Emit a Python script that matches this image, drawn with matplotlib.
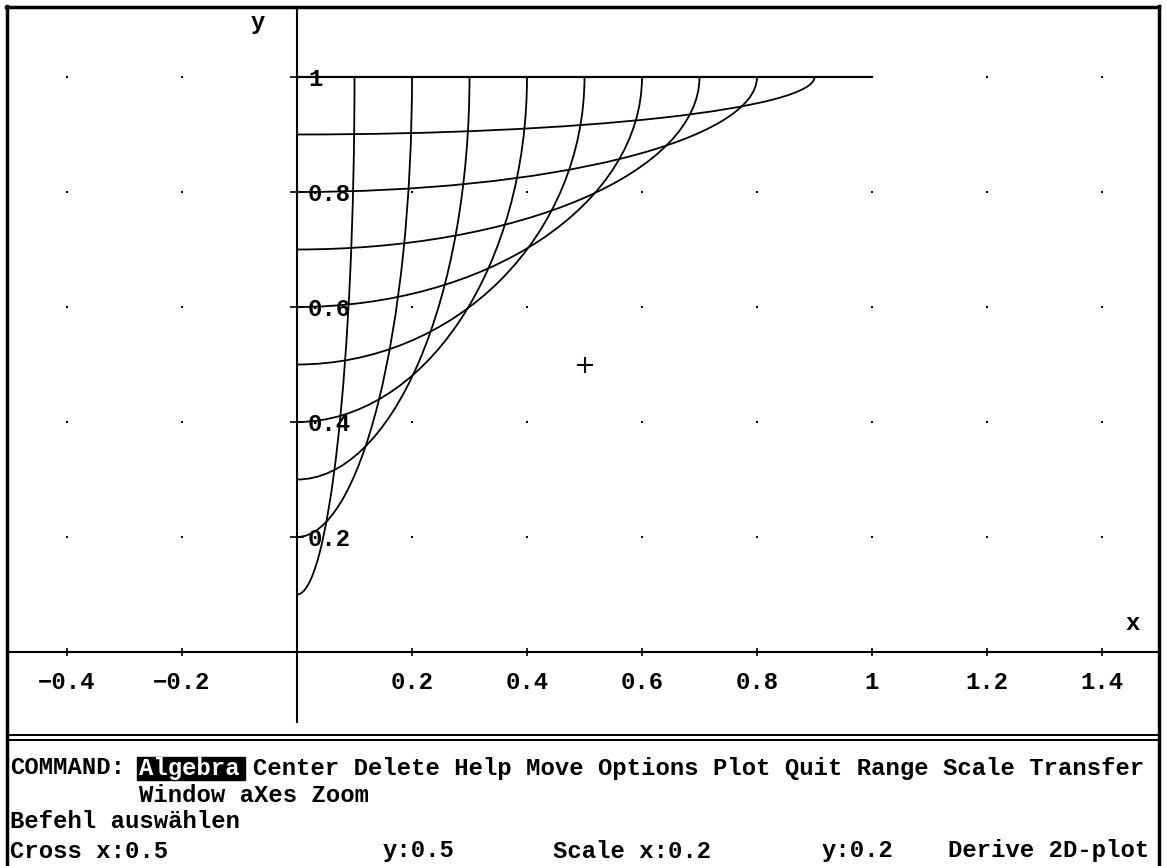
import matplotlib
matplotlib.use("Agg")
import matplotlib.pyplot as plt
from matplotlib.patches import Arc, Rectangle
import numpy as np

# quarter ellipses centred at (0, 1): x semi-axis a, y semi-axis 1 - a
ellipse_a = [0.1, 0.2, 0.3, 0.4, 0.5, 0.6, 0.7, 0.8, 0.9]
top_line_end = 1.0   # a = 1 collapses to the flat line y = 1

x_ticks = [-0.4, -0.2, 0.2, 0.4, 0.6, 0.8, 1.0, 1.2, 1.4]
x_tick_labels = ["\u22120.4", "\u22120.2", "0.2", "0.4", "0.6", "0.8", "1", "1.2", "1.4"]
y_ticks = [0.2, 0.4, 0.6, 0.8, 1.0]
y_tick_labels = ["0.2", "0.4", "0.6", "0.8", "1"]
cross_x = 0.5
cross_y = 0.5

menu_items = ["Center", "Delete", "Help", "Move", "Options", "Plot", "Quit",
              "Range", "Scale", "Transfer"]
menu_items2 = ["Window", "aXes", "Zoom"]

W, H = 1167, 866
# pixel layout of the graph window
x0_px, y0_px, unit_px = 297, 652, 575
left_px, right_px, top_px, bot_px = 9, 1158, 9, 733

mono = ["Liberation Mono", "DejaVu Sans Mono"]
fs = 17.2

fig = plt.figure(figsize=(W / 100, H / 100), dpi=100)

bg = fig.add_axes([0, 0, 1, 1])
bg.set_xlim(0, W)
bg.set_ylim(H, 0)
bg.axis("off")

ax = fig.add_axes([left_px / W, 1 - bot_px / H,
                   (right_px - left_px) / W, (bot_px - top_px) / H])
ax.patch.set_visible(False)
ax.set_xlim((left_px - x0_px) / unit_px, (right_px - x0_px) / unit_px)
ax.set_ylim((y0_px - bot_px) / unit_px, (y0_px - top_px) / unit_px)

for s in ["top", "right"]:
    ax.spines[s].set_visible(False)
ax.spines["left"].set_position(("data", 0))
ax.spines["bottom"].set_position(("data", 0))
ax.spines["left"].set_bounds((y0_px - 722) / unit_px, (y0_px - top_px) / unit_px)
ax.spines["left"].set_linewidth(1.5)
ax.spines["bottom"].set_linewidth(1.5)

ax.set_xticks(x_ticks, x_tick_labels)
ax.set_yticks(y_ticks, y_tick_labels)
ax.tick_params(axis="x", direction="inout", length=6, width=1.2, pad=11,
               labelsize=fs)
ax.tick_params(axis="y", direction="inout", length=10, width=1.2, pad=-13,
               labelsize=fs)
for lbl in ax.get_xticklabels() + ax.get_yticklabels():
    lbl.set_fontfamily(mono)
    lbl.set_fontweight("bold")
for lbl in ax.get_yticklabels():
    lbl.set_horizontalalignment("left")

# grid dots
gx, gy = np.meshgrid(x_ticks, y_ticks)
ax.plot(gx.ravel(), gy.ravel(), "s", ms=1.5, mew=0, color="black")

# the curves
for a in ellipse_a:
    ax.add_patch(Arc((0, 1), 2 * a, 2 * (1 - a), theta1=270, theta2=360,
                     color="black", lw=1.3))
ax.plot([0, top_line_end], [1, 1], color="black", lw=1.6)

ax.plot(cross_x, cross_y, "+", ms=11, mew=1.5, color="black")

# axis names
bg.text(258, 22, "y", fontfamily=mono, fontweight="bold", fontsize=fs,
        ha="center", va="center")
bg.text(1133, 623, "x", fontfamily=mono, fontweight="bold", fontsize=fs,
        ha="center", va="center")

# window frame
bg.plot([7, 7], [6, H], color="black", lw=2.5, clip_on=False)
bg.plot([6, 1159], [7, 7], color="black", lw=2.5, clip_on=False)
bg.plot([1159, 1159], [6, H], color="black", lw=2.5, clip_on=False)
bg.plot([7, 1159], [735, 735], color="black", lw=1.4)
bg.plot([7, 1159], [740, 740], color="black", lw=1.4)

# status area
txt = dict(fontfamily=mono, fontweight="bold", fontsize=fs, va="center",
           ha="left")
bg.text(10, 768, "COMMAND:", **txt)
bg.add_patch(Rectangle((137, 757), 108, 23, color="black"))
bg.text(139, 768, "Algebra", color="white", **txt)
bg.text(253, 768, " ".join(menu_items), **txt)
bg.text(139, 795, " ".join(menu_items2), **txt)
bg.text(10, 822, "Befehl ausw\u00e4hlen", **txt)
bg.text(10, 851, "Cross x:0.5", **txt)
bg.text(383, 851, "y:0.5", **txt)
bg.text(553, 851, "Scale x:0.2", **txt)
bg.text(822, 851, "y:0.2", **txt)
bg.text(948, 851, "Derive 2D-plot", **txt)

fig.savefig("out.png", dpi=100)
